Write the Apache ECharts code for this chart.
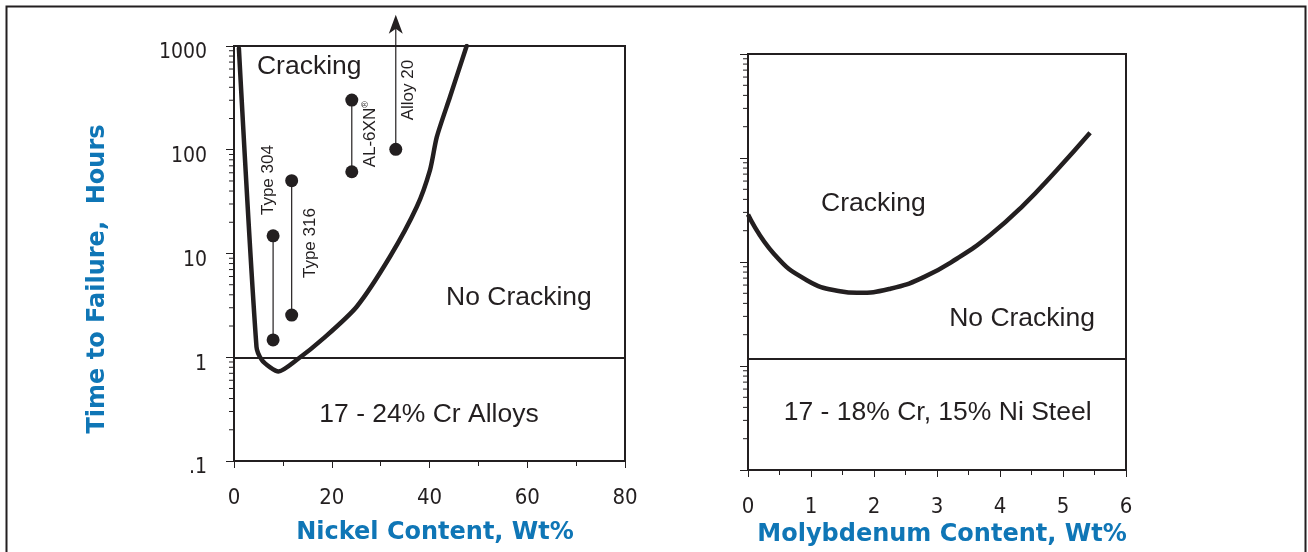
<!DOCTYPE html>
<html>
<head>
<meta charset="utf-8">
<script src="https://cdn.jsdelivr.net/npm/echarts@6/dist/echarts.min.js"></script>
<style>
html,body{margin:0;padding:0;background:#fff;}
#chart{width:1308px;height:552px;}
</style>
</head>
<body>
<div id="chart"></div>
<script>
// ---------- data ----------
// Left panel: 17-24% Cr alloys, Ni content vs time to failure
const niCurveX     = [1, 4.6, 5.7, 7.4, 9.1, 12.8, 18.3, 25.1, 31.9, 37.4, 40.1, 41.5, 44.2, 47.6];
const niCurveHours = [950, 1.26, 0.94, 0.80, 0.73, 0.94, 1.52, 3.07, 9.3, 28.2, 63.7, 133, 324, 1000];

const alloyNames = ['Type 304', 'Type 316', 'AL-6XN', 'Alloy 20'];
const alloyNi    = [8, 11.8, 24.1, 33.1];
const alloyLow   = [1.47, 2.55, 61.4, 101];
const alloyHigh  = [14.8, 50.3, 301, null];
const alloy20ArrowTop = 2000;

// Right panel: 17-18% Cr, 15% Ni steel, Mo content vs time to failure
const moCurveX     = [0, 0.41, 0.94, 1.46, 1.73, 2.26, 2.79, 3.32, 3.84, 4.37, 4.9, 5.43];
const moCurveHours = [28.6, 12.0, 6.65, 5.24, 5.06, 5.53, 7.15, 10.8, 18.1, 35.1, 76.4, 175];

// Threshold lines
const leftThreshold = 1;
const rightThreshold = 1.18;

// Axis ticks
const yDecades = [0.1, 1, 10, 100, 1000];
const yMinorMultipliers = [2, 3, 4, 5, 6, 7, 8, 9];
const niTicks = [0, 20, 40, 60, 80];
const moTicks = [0, 1, 2, 3, 4, 5, 6];

// Region annotations [x, y, text]
const leftNotes  = [[15.4, 626, 'Cracking'], [58.3, 3.73, 'No Cracking'], [39.9, 0.278, '17 - 24% Cr Alloys']];
const rightNotes = [[1.99, 36.7, 'Cracking'], [4.35, 2.86, 'No Cracking'], [3.01, 0.357, '17 - 18% Cr, 15% Ni Steel']];
// Alloy label anchor points [x, y]
const alloyLabelPos = [[7.0, 51], [15.55, 12.6], [27.8, 141], [35.66, 376]];

// ---------- chart ----------
const INK = '#231f20';
const TXT = '#231f20';
const BLUE = '#0f76b6';
const TICK_FONT = '"Liberation Sans Narrow","DejaVu Sans Condensed","Liberation Sans",sans-serif';
const TEXT_FONT = '"Liberation Sans",Arial,sans-serif';
const TITLE_FONT = '"DejaVu Sans",sans-serif';

const minorVals = [];
for (let i = 0; i < yDecades.length - 1; i++) {
  yMinorMultipliers.forEach(m => minorVals.push(+(yDecades[i] * m).toPrecision(3)));
}

function minorTickSeries(xi, yi, xMin) {
  return {
    type: 'custom', xAxisIndex: xi, yAxisIndex: yi, silent: true, clip: false,
    data: minorVals.map(v => [xMin, v]),
    renderItem: function (params, api) {
      const p = api.coord([api.value(0), api.value(1)]);
      return { type: 'line', shape: { x1: p[0] - 5, y1: p[1], x2: p[0], y2: p[1] },
               style: { stroke: INK, lineWidth: 1 } };
    },
    z: 5
  };
}

const yAxisCommon = {
  type: 'log', logBase: 10, min: 0.1, max: 1000,
  axisLine: { show: true, lineStyle: { color: INK, width: 2 } },
  axisTick: { show: true, length: 8, lineStyle: { color: INK, width: 1 } },
  splitLine: { show: false },
  minorTick: { show: false },
  minorSplitLine: { show: false }
};

const noteLabel = { show: true, position: 'inside', formatter: '{b}', fontFamily: TEXT_FONT, fontSize: 26.5,
                    color: TXT, textBorderWidth: 0, textShadowBlur: 0 };

const series = [];

// left curve
series.push({
  type: 'line', xAxisIndex: 0, yAxisIndex: 0, name: 'Ni curve',
  data: niCurveX.map((x, i) => [x, niCurveHours[i]]),
  smooth: 0.25, symbol: 'none',
  lineStyle: { color: INK, width: 4.5, cap: 'round', join: 'round' },
  markLine: {
    silent: true, symbol: 'none', label: { show: false },
    lineStyle: { color: INK, width: 2, type: 'solid' },
    data: [{ yAxis: leftThreshold }]
  },
  z: 3
});

// alloy pairs
alloyNames.forEach((n, i) => {
  const pts = [[alloyNi[i], alloyLow[i]]];
  if (alloyHigh[i] != null) pts.push([alloyNi[i], alloyHigh[i]]);
  series.push({
    type: 'line', xAxisIndex: 0, yAxisIndex: 0, name: n,
    data: pts, symbol: 'circle', symbolSize: 13, showSymbol: true,
    itemStyle: { color: INK }, lineStyle: { color: INK, width: 1.2 }, z: 4
  });
});

// Alloy 20 arrow
series.push({
  type: 'custom', xAxisIndex: 0, yAxisIndex: 0, clip: false, silent: true,
  data: [[alloyNi[3], alloyLow[3], alloy20ArrowTop]],
  renderItem: function (params, api) {
    const p1 = api.coord([api.value(0), api.value(1)]);
    const p2 = api.coord([api.value(0), api.value(2)]);
    return {
      type: 'group', children: [
        { type: 'line', shape: { x1: p1[0], y1: p1[1], x2: p2[0], y2: p2[1] + 10 },
          style: { stroke: INK, lineWidth: 1.2 } },
        { type: 'polygon', shape: { points: [[p2[0], p2[1]], [p2[0] + 7, p2[1] + 19], [p2[0], p2[1] + 14], [p2[0] - 7, p2[1] + 19]] },
          style: { fill: INK } }
      ]
    };
  },
  z: 4
});

// alloy labels
series.push({
  type: 'scatter', xAxisIndex: 0, yAxisIndex: 0, silent: true, symbolSize: 0,
  itemStyle: { opacity: 1 },
  data: alloyLabelPos.map((p, i) => ({ value: p, name: alloyNames[i] })),
  label: {
    show: true, position: 'inside', rotate: 90,
    fontFamily: TEXT_FONT, fontSize: 17, color: TXT, textBorderWidth: 0,
    formatter: function (p) { return p.name === 'AL-6XN' ? '{n|AL-6XN}{r|®}' : p.name; },
    rich: { n: { fontFamily: TEXT_FONT, fontSize: 17, color: TXT },
            r: { fontFamily: TEXT_FONT, fontSize: 9, color: TXT, verticalAlign: 'top', padding: [0, 0, 8, 0] } }
  },
  z: 6
});

// left notes
series.push({
  type: 'scatter', xAxisIndex: 0, yAxisIndex: 0, silent: true, symbolSize: 0,
  itemStyle: { opacity: 1 },
  data: leftNotes.map(d => ({ value: [d[0], d[1]], name: d[2] })),
  label: noteLabel,
  z: 6
});

// right curve
series.push({
  type: 'line', xAxisIndex: 1, yAxisIndex: 1, name: 'Mo curve',
  data: moCurveX.map((x, i) => [x, moCurveHours[i]]),
  smooth: true, symbol: 'none',
  lineStyle: { color: INK, width: 4.5 },
  markLine: {
    silent: true, symbol: 'none', label: { show: false },
    lineStyle: { color: INK, width: 2, type: 'solid' },
    data: [{ yAxis: rightThreshold }]
  },
  z: 3
});

// right notes
series.push({
  type: 'scatter', xAxisIndex: 1, yAxisIndex: 1, silent: true, symbolSize: 0,
  itemStyle: { opacity: 1 },
  data: rightNotes.map(d => ({ value: [d[0], d[1]], name: d[2] })),
  label: noteLabel,
  z: 6
});

series.push(minorTickSeries(0, 0, 0));
series.push(minorTickSeries(1, 1, 0));

const option = {
  animation: false,
  backgroundColor: '#fff',
  grid: [
    { left: 234, top: 46, width: 391, height: 415, show: true, borderColor: INK, borderWidth: 2, backgroundColor: 'transparent' },
    { left: 748, top: 54, width: 378, height: 416, show: true, borderColor: INK, borderWidth: 2, backgroundColor: 'transparent' }
  ],
  xAxis: [
    {
      gridIndex: 0, type: 'value', min: niTicks[0], max: niTicks[niTicks.length - 1], interval: 20,
      axisLine: { show: true, onZero: false, lineStyle: { color: INK, width: 2 } },
      axisTick: { show: true, length: 7, lineStyle: { color: INK } },
      minorTick: { show: true, splitNumber: 2, length: 5, lineStyle: { color: INK } },
      splitLine: { show: false }, minorSplitLine: { show: false },
      axisLabel: { margin: 26, fontFamily: TICK_FONT, fontSize: 22, color: TXT },
      name: 'Nickel Content, Wt%', nameLocation: 'middle', nameGap: 60,
      nameTextStyle: { fontFamily: TITLE_FONT, fontWeight: 'bold', fontSize: 24, color: BLUE, padding: [0, 0, 0, 11] }
    },
    {
      gridIndex: 1, type: 'value', min: moTicks[0], max: moTicks[moTicks.length - 1], interval: 1,
      axisLine: { show: true, onZero: false, lineStyle: { color: INK, width: 2 } },
      axisTick: { show: true, length: 7, lineStyle: { color: INK } },
      minorTick: { show: true, splitNumber: 2, length: 5, lineStyle: { color: INK } },
      splitLine: { show: false }, minorSplitLine: { show: false },
      axisLabel: { margin: 26, fontFamily: TICK_FONT, fontSize: 22, color: TXT },
      name: 'Molybdenum Content, Wt%', nameLocation: 'middle', nameGap: 51,
      nameTextStyle: { fontFamily: TITLE_FONT, fontWeight: 'bold', fontSize: 24, color: BLUE, padding: [0, 0, 0, 10] }
    }
  ],
  yAxis: [
    Object.assign({}, yAxisCommon, {
      gridIndex: 0,
      axisLabel: {
        margin: 27, fontFamily: TICK_FONT, fontSize: 21, color: TXT,
        verticalAlign: 'top', lineHeight: 14,
        formatter: function (v) { return v < 0.5 ? '.1' : String(Math.round(v)); }
      }
    }),
    Object.assign({}, yAxisCommon, {
      gridIndex: 1,
      axisLabel: { show: false }
    })
  ],
  graphic: [
    { type: 'rect', left: 4, top: 4, shape: { width: 1299, height: 600 },
      style: { fill: 'none', stroke: INK, lineWidth: 2 }, silent: true, z: 100 },
    { type: 'text', x: 98, y: 279, rotation: Math.PI / 2,
      style: { text: 'Time to Failure,  Hours', fill: BLUE, font: 'bold 24px "DejaVu Sans", sans-serif',
               align: 'center', verticalAlign: 'middle' }, silent: true }
  ],
  series: series
};

const chart = echarts.init(document.getElementById('chart'), null, { renderer: 'canvas' });
chart.setOption(option);
</script>
</body>
</html>
